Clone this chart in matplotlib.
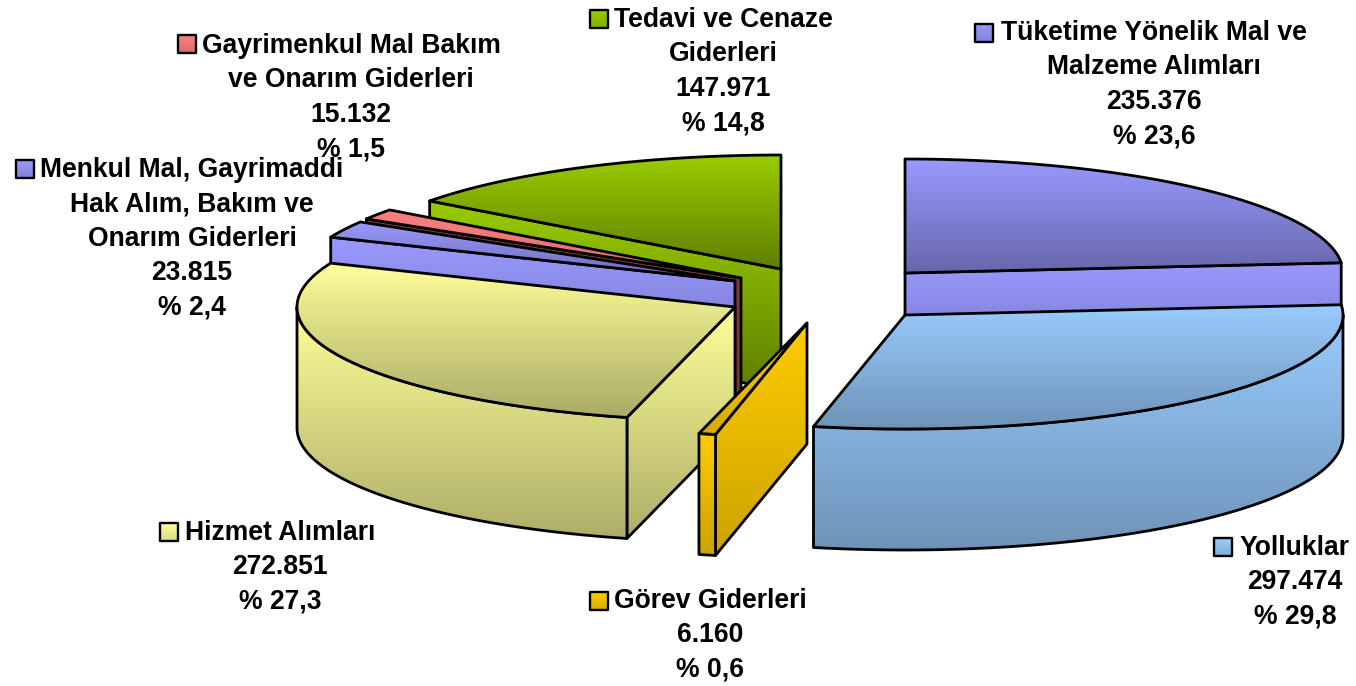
import numpy as np
import matplotlib
matplotlib.use('Agg')
import matplotlib.pyplot as plt
from matplotlib.colors import LinearSegmentedColormap, to_rgb
from matplotlib.patches import Polygon

plt.rcParams['font.family'] = ['Liberation Sans', 'DejaVu Sans']

# slices, clockwise from 12 o'clock
names = [
    ['Tüketime Yönelik Mal ve', 'Malzeme Alımları'],
    ['Yolluklar'],
    ['Görev Giderleri'],
    ['Hizmet Alımları'],
    ['Menkul Mal, Gayrimaddi', 'Hak Alım, Bakım ve', 'Onarım Giderleri'],
    ['Gayrimenkul Mal Bakım', 've Onarım Giderleri'],
    ['Tedavi ve Cenaze', 'Giderleri'],
]
values = [235376, 297474, 6160, 272851, 23815, 15132, 147971]
colors = ['#9999FF', '#99CCFF', '#FFCC00', '#FFFF99', '#9999FF', '#FF8080', '#99CC00']
# sides that look darker than the top
side_colors = ['#9999FF', '#99CCFF', '#FFCC00', '#FFFF99', '#9999FF', '#8A3F3F', '#99CC00']
# how dark the gradients get at the bottom
top_dark = [0.67, 0.72, 0.84, 0.67, 0.7, 0.85, 0.62]
side_dark = [0.72, 0.72, 0.8, 0.68, 0.72, 0.85, 0.62]

# pixel layout of the exploded pie
rx, ry, depth = 438, 114, 121
centers = [(905, 273), (905, 315), (807, 323), (735, 307), (735, 281), (741, 278), (781, 269)]
draw_order = [6, 5, 4, 3, 2, 0, 1]

# label layout: text centre x, y of first line, key box left/top
label_x = [1154, 1295, 710, 280, 192, 351, 723]
label_y = [33, 548, 601, 533, 170, 46, 20]
line_gap = 34.4
key_pos = [(975, 24), (1214, 538), (590, 592), (160, 523), (16, 160), (178, 35), (590, 10)]
key_size = 18

fig = plt.figure(figsize=(13.56, 6.86), dpi=100)
ax = fig.add_axes([0, 0, 1, 1])
ax.axis('off')

zo = [1]


def shade(color, k):
    return tuple(c * k for c in to_rgb(color))


def grad_fill(verts, color, k=0.65, lw=2.0):
    """Polygon with a vertical gradient, light on top."""
    verts = np.asarray(verts)
    cmap = LinearSegmentedColormap.from_list('g', [to_rgb(color), shade(color, k)])
    x0, y0 = verts.min(axis=0)
    x1, y1 = verts.max(axis=0)
    poly = Polygon(verts, closed=True, facecolor='none', edgecolor='black',
                   linewidth=lw, joinstyle='round', zorder=zo[0] + 1)
    ax.add_patch(poly)
    im = ax.imshow(np.linspace(0, 1, 256)[:, None], extent=[x0, x1, y1, y0], cmap=cmap,
                   aspect='auto', zorder=zo[0], interpolation='bilinear')
    im.set_clip_path(poly)
    zo[0] += 2


def arc(c, a1, a2):
    t = np.radians(np.linspace(a1, a2, 150))
    return np.column_stack([c[0] + rx * np.sin(t), c[1] - ry * np.cos(t)])


def rim_point(c, a):
    return arc(c, a, a)[0]


total = sum(values)
edges = np.concatenate([[0], np.cumsum(values) / total * 360])
down = np.array([0, depth])

for i in draw_order:
    c = np.array(centers[i], dtype=float)
    a1, a2 = edges[i], edges[i + 1]
    col, scol = colors[i], side_colors[i]

    # cut faces that turn towards the viewer
    if np.sin(np.radians(a1)) < -1e-6:
        p = rim_point(c, a1)
        grad_fill([p, c, c + down, p + down], scol, side_dark[i])
    if np.sin(np.radians(a2)) > 1e-6:
        p = rim_point(c, a2)
        grad_fill([c, p, p + down, c + down], scol, side_dark[i])

    # outer wall, front half only
    lo, hi = max(a1, 90), min(a2, 270)
    if hi > lo:
        rim = arc(c, lo, hi)
        grad_fill(np.vstack([rim, (rim + down)[::-1]]), scol, side_dark[i])

    # top
    grad_fill(np.vstack([[c], arc(c, a1, a2)]), col, top_dark[i])

# labels
for i in range(len(values)):
    v = f'{values[i]:,}'.replace(',', '.')
    pct = f'% {values[i] / total * 100:.1f}'.replace('.', ',')
    for j, line in enumerate(names[i] + [v, pct]):
        ax.text(label_x[i], label_y[i] + j * line_gap, line, ha='center', va='center',
                fontsize=19.1, fontweight='bold', color='black', zorder=500)
    kx, ky = key_pos[i]
    box = np.array([[kx, ky], [kx + key_size, ky], [kx + key_size, ky + key_size], [kx, ky + key_size]])
    grad_fill(box, colors[i], 0.85, lw=1.7)

ax.set_xlim(0, 1356)
ax.set_ylim(686, 0)
fig.savefig('out.png', dpi=100, facecolor='white')
